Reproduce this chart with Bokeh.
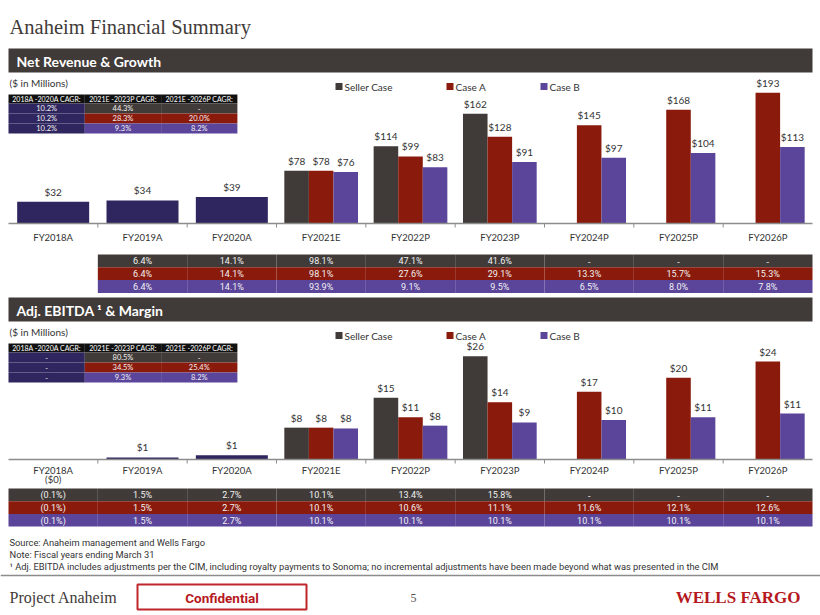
import math
from bokeh.plotting import figure
from bokeh.models import Range1d, ColumnDataSource, Span
from bokeh.transform import dodge
from bokeh.core.properties import value
from bokeh.embed import file_html
from bokeh.resources import INLINE

NAN = float("nan")

# ---------------- data ----------------
years = ["FY2018A", "FY2019A", "FY2020A", "FY2021E", "FY2022P",
         "FY2023P", "FY2024P", "FY2025P", "FY2026P"]
hist_years = years[:3]
proj_years = years[3:]
cases = ["Seller Case", "Case A", "Case B"]

# Net revenue ($M)
rev_hist = [32, 34, 39]
rev_seller = [78, 114, 162, NAN, NAN, NAN]
rev_case_a = [78, 99, 128, 145, 168, 193]
rev_case_b = [76, 83, 91, 97, 104, 113]

# Revenue growth (FY2019A .. FY2026P)
growth_years = years[1:]
growth_seller = ["6.4%", "14.1%", "98.1%", "47.1%", "41.6%", "-", "-", "-"]
growth_case_a = ["6.4%", "14.1%", "98.1%", "27.6%", "29.1%", "13.3%", "15.7%", "15.3%"]
growth_case_b = ["6.4%", "14.1%", "93.9%", "9.1%", "9.5%", "6.5%", "8.0%", "7.8%"]

# Revenue CAGR table
cagr_headers = ["2018A -2020A CAGR:", "2021E -2023P CAGR:", "2021E -2026P CAGR:"]
rev_cagr_1820 = ["10.2%", "10.2%", "10.2%"]
rev_cagr_2123 = ["44.3%", "28.3%", "9.3%"]
rev_cagr_2126 = ["-", "20.0%", "8.2%"]

# Adj. EBITDA ($M)
ebitda_hist = [-0.03, 0.51, 1.05]
ebitda_seller = [7.9, 15.3, 25.6, NAN, NAN, NAN]
ebitda_case_a = [7.9, 10.5, 14.2, 16.8, 20.3, 24.3]
ebitda_case_b = [7.7, 8.4, 9.2, 9.8, 10.5, 11.4]

# EBITDA margin (FY2018A .. FY2026P)
margin_seller = ["(0.1%)", "1.5%", "2.7%", "10.1%", "13.4%", "15.8%", "-", "-", "-"]
margin_case_a = ["(0.1%)", "1.5%", "2.7%", "10.1%", "10.6%", "11.1%", "11.6%", "12.1%", "12.6%"]
margin_case_b = ["(0.1%)", "1.5%", "2.7%", "10.1%", "10.1%", "10.1%", "10.1%", "10.1%", "10.1%"]

# EBITDA CAGR table
ebitda_cagr_1820 = ["-", "-", "-"]
ebitda_cagr_2123 = ["80.5%", "34.5%", "9.3%"]
ebitda_cagr_2126 = ["-", "25.4%", "8.2%"]

notes = ["Source: Anaheim management and Wells Fargo",
         "Note: Fiscal years ending March 31",
         "\u00b9 Adj. EBITDA includes adjustments per the CIM, including royalty payments to Sonoma; "
         "no incremental adjustments have been made beyond what was presented in the CIM"]

# ---------------- style ----------------
C_SELLER = "#403b38"
C_A = "#8a1a0c"
C_B = "#5a459b"
C_HIST = "#2f265f"
C_BANNER = "#403b38"
C_HEAD = "#111111"
C_TXT = "#333333"
C_CELL = "#f2f2f2"
RED = "#b5191d"
SANS = "Lato"
COND = "Roboto"
SERIF = "Liberation Serif"

W, H = 820, 615
p = figure(width=W, height=H, x_range=Range1d(0, W), y_range=Range1d(H, 0),
           output_backend="svg", toolbar_location=None, min_border=0,
           x_axis_location=None, y_axis_location=None)
p.outline_line_color = None
p.background_fill_color = "white"
p.border_fill_color = "white"
for g in p.grid:
    g.visible = False

# category axis spans x = 8 .. 812; slot i occupies [i, i+1], centred at i + 0.5
AX_L, AX_R = 8.0, 812.0
slot = (AX_R - AX_L) / len(years)
pos = {y: i + 0.5 for i, y in enumerate(years)}
REV_BASE, REV_SCALE = 223.0, 0.677
EB_BASE, EB_SCALE = 459.0, 4.03
p.extra_x_ranges = {"cat": Range1d(-AX_L / slot, len(years) + (W - AX_R) / slot)}
p.extra_y_ranges = {
    "rev": Range1d(start=(REV_BASE - H) / REV_SCALE, end=REV_BASE / REV_SCALE),
    "eb": Range1d(start=(EB_BASE - H) / EB_SCALE, end=EB_BASE / EB_SCALE),
}


def txt(x, y, s, size, color=C_TXT, font=SANS, style="normal", align="left",
        baseline="middle", **kw):
    xs = x if isinstance(x, list) else [x]
    ss = s if isinstance(s, list) else [s]
    p.text(x=xs, y=y, text=ss, text_font=value(font), text_font_size=size,
           text_font_style=style, text_color=color, text_align=align,
           text_baseline=baseline, **kw)


def fmt(v):
    if v is None or (isinstance(v, float) and math.isnan(v)):
        return ""
    if v < 0:
        return "($%d)" % math.floor(-v + 0.5)
    return "$%d" % math.floor(v + 0.5)


# ---------------- header ----------------
txt(9, 26, "Anaheim Financial Summary", "20.5px", color="#3f3b39", font=SERIF)


def section(top, title, yname, scale, hist, seller, a, b, cagr_cols, label_gap):
    # banner
    p.quad(left=AX_L, right=AX_R, top=top, bottom=top + 24, fill_color=C_BANNER,
           line_color=None)
    txt(16, top + 12.5, title, "14px", color="white", style="bold")
    txt(9, top + 34, "($ in Millions)", "10px", color=C_TXT)
    # legend
    for sx, name, col in zip([338.5, 449.5, 543.5], cases, [C_SELLER, C_A, C_B]):
        p.scatter(x=[sx], y=[top + 38], marker="square", size=7, fill_color=col,
                  line_color=None)
        txt(sx + 5.5, top + 38, name, "10px", color=C_TXT)
    # CAGR table
    ht = top + 46
    col_w = 76.3
    for j, h in enumerate(cagr_headers):
        x0 = AX_L + j * col_w
        p.quad(left=x0, right=x0 + col_w, top=ht, bottom=ht + 9,
               fill_color=C_HEAD, line_color=None)
        txt(x0 + col_w / 2, ht + 4.7, h, "7px", color="white", align="center")
    row_cols = [C_SELLER, C_A, C_B]
    for j, colvals in enumerate(cagr_cols):
        x0 = AX_L + j * col_w
        for i, s in enumerate(colvals):
            fill = C_HIST if j == 0 else row_cols[i]
            rt = ht + 9 + i * 10
            p.quad(left=x0, right=x0 + col_w, top=rt, bottom=rt + 10,
                   fill_color=fill, line_color=None)
            txt(x0 + col_w / 2, rt + 5.2, s, "7.5px", color=C_CELL, align="center")

    # bars
    hist_src = ColumnDataSource(dict(
        year=hist_years, x=[pos[y] for y in hist_years], v=hist,
        above=[fmt(v) if v >= 0 else "" for v in hist],
        below=[fmt(v) if v < 0 else "" for v in hist]))
    proj_src = ColumnDataSource(dict(
        year=proj_years, x=[pos[y] for y in proj_years], s=seller, a=a, b=b,
        ls=[fmt(v) for v in seller], la=[fmt(v) for v in a], lb=[fmt(v) for v in b]))
    p.vbar(x="x", top="v", bottom=0, width=0.806, source=hist_src,
           fill_color=C_HIST, line_color=None, x_range_name="cat", y_range_name=yname)
    common = dict(text_font=value(SANS), text_font_size="10px", text_color=C_TXT,
                  text_align="center", text_baseline="bottom", y_offset=-4,
                  x_range_name="cat", y_range_name=yname)
    p.text(x="x", y="v", text="above", source=hist_src, **common)
    for key, lab, off, col in [("s", "ls", -0.275, C_SELLER), ("a", "la", 0.0, C_A),
                               ("b", "lb", 0.275, C_B)]:
        xd = dodge("x", off)
        p.vbar(x=xd, top=key, bottom=0, width=0.275, source=proj_src,
               fill_color=col, line_color=None, x_range_name="cat", y_range_name=yname)
        p.text(x=xd, y=key, text=lab, source=proj_src, **common)
    # axis line, ticks and category labels
    p.segment(x0=[0], y0=[0], x1=[len(years)], y1=[0], line_color="#8c8c8c",
              line_width=1.5, x_range_name="cat", y_range_name=yname)
    tick_src = ColumnDataSource(dict(x=[pos[y] for y in years[:-1]]))
    td = dodge("x", 0.5)
    p.segment(x0=td, y0=0, x1=td, y1=-4.0 / scale, source=tick_src,
              line_color="#8c8c8c", line_width=1, x_range_name="cat", y_range_name=yname)
    p.text(x=[pos[y] for y in years], y=0, text=years, text_font=value(SANS),
           text_font_size="9.5px", text_color=C_TXT, text_align="center",
           text_baseline="middle", y_offset=label_gap, x_range_name="cat", y_range_name=yname)
    p.text(x="x", y=0, text="below", source=hist_src, text_font=value(SANS),
           text_font_size="9.5px", text_color=C_TXT, text_align="center",
           text_baseline="middle", y_offset=label_gap + 9,
           x_range_name="cat", y_range_name=yname)


def band_table(cols, rows, top, rh):
    xs = [pos[c] for c in cols]
    for i, (vals, col) in enumerate(rows):
        yc = top + rh * (i + 0.5)
        p.rect(x=xs, y=yc, width=1, height=rh, fill_color=col, line_color=None,
               x_range_name="cat")
        p.text(x=xs, y=yc + 0.5, text=vals, text_font=value(COND), text_font_size="9px",
               text_color=C_CELL, text_align="center", text_baseline="middle",
               x_range_name="cat")


section(48, "Net Revenue & Growth", "rev", REV_SCALE, rev_hist, rev_seller, rev_case_a,
        rev_case_b, [rev_cagr_1820, rev_cagr_2123, rev_cagr_2126], 13.5)
band_table(growth_years, [(growth_seller, C_SELLER), (growth_case_a, C_A),
                          (growth_case_b, C_B)], 254, 12.8)

section(297, "Adj. EBITDA \u00b9 & Margin", "eb", EB_SCALE, ebitda_hist, ebitda_seller,
        ebitda_case_a, ebitda_case_b, [ebitda_cagr_1820, ebitda_cagr_2123, ebitda_cagr_2126], 11)
band_table(years, [(margin_seller, C_SELLER), (margin_case_a, C_A),
                   (margin_case_b, C_B)], 488, 12.7)

# ---------------- notes & footer ----------------
for i, s in enumerate(notes):
    txt(9, 542 + 12 * i, s, "9.3px", color=C_TXT, font=COND)
p.segment(x0=[0], y0=[575], x1=[W], y1=[575], line_color="#8c8c8c", line_width=1.5)
txt(9, 597, "Project Anaheim", "16px", color="#3f3b39", font=SERIF)
p.quad(left=137, right=306, top=584, bottom=609, fill_color=None, line_color="#c0272d",
       line_width=2)
txt(221.5, 597, "Confidential", "13.5px", color=RED, font=COND, style="bold", align="center")
txt(410, 597, "5", "12px", color="#555555", font=SERIF)
txt(800, 597, "WELLS FARGO", "17px", color=RED, font=SERIF, style="bold", align="right")

open("out.html", "w").write(file_html(p, INLINE))
